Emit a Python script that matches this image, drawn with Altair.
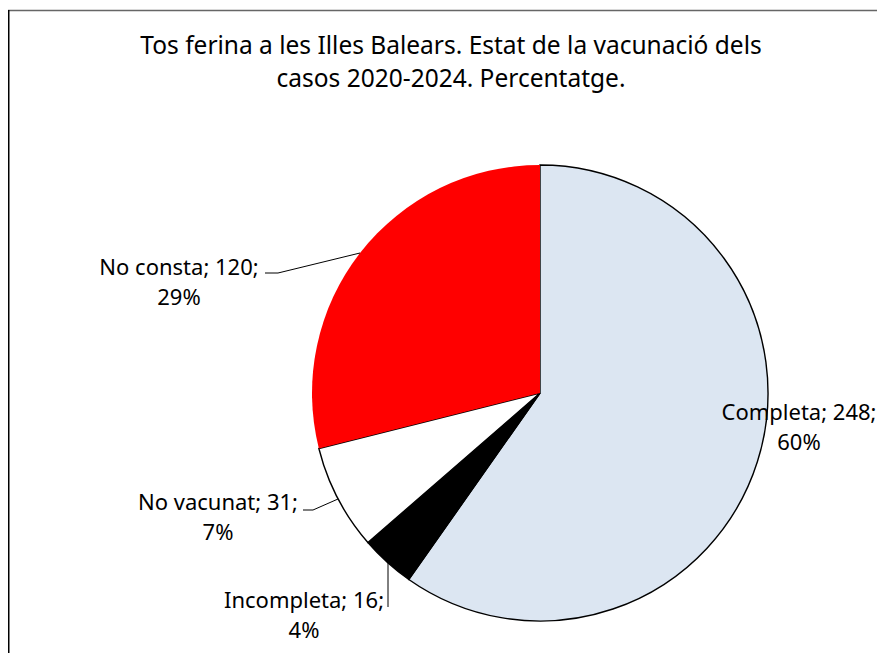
import altair as alt
import pandas as pd

# ---- data ----
categories = ["Completa", "Incompleta", "No vacunat", "No consta"]
counts = [248, 16, 31, 120]
colors = ["#DCE6F2", "#000000", "#FFFFFF", "#FF0000"]
title_lines = ["Tos ferina a les Illes Balears. Estat de la vacunació dels",
               "casos 2020-2024. Percentatge."]

# ---- layout (page pixel coordinates) ----
OFF = 8
CX, CY, R = 540 - OFF, 393 - OFF, 228
label_x = [799, 304, 218, 179]
label_y = [413, 601, 503, 268]   # centre of first text line
leader_segments = [  # x1, y1, x2, y2 (page px)
    (265, 273, 278, 273), (278, 273, 360, 253),
    (303, 510, 313, 510), (313, 510, 338, 499),
    (388, 607, 388, 563),
]
FONT = "Noto Sans"

total = sum(counts)
df = pd.DataFrame({
    "cat": categories,
    "count": counts,
    "idx": list(range(len(categories))),
})
df["label"] = [f"{c}; {n};\n{round(100 * n / total)}%" for c, n in zip(categories, counts)]
df["lx"] = [v - OFF for v in label_x]
df["ly"] = [v - OFF for v in label_y]

seg = pd.DataFrame(leader_segments, columns=["x1", "y1", "x2", "y2"]) - OFF

pie = alt.Chart(df).mark_arc(radius=R, stroke="black", strokeWidth=1.4).encode(
    theta=alt.Theta("count:Q", stack=True),
    order=alt.Order("idx:Q"),
    color=alt.Color("cat:N", scale=alt.Scale(domain=categories, range=colors), legend=None),
    strokeOpacity=alt.condition(alt.datum.cat == "No consta", alt.value(0), alt.value(1)),
    x=alt.value(CX),
    y=alt.value(CY),
)

labels = alt.Chart(df).mark_text(
    font=FONT, fontSize=22, lineBreak="\n", lineHeight=30,
    align="center", baseline="middle", color="black"
).encode(
    x=alt.X("lx:Q", scale=None, axis=None),
    y=alt.Y("ly:Q", scale=None, axis=None),
    text="label:N",
)

leaders = alt.Chart(seg).mark_rule(color="black", strokeWidth=1).encode(
    x=alt.X("x1:Q", scale=None, axis=None),
    y=alt.Y("y1:Q", scale=None, axis=None),
    x2="x2:Q",
    y2="y2:Q",
)

title_df = pd.DataFrame({"t": ["\n".join(title_lines)]})
title = alt.Chart(title_df).mark_text(
    font=FONT, fontSize=24.5, lineBreak="\n", lineHeight=33,
    align="center", baseline="middle", color="black"
).encode(
    text="t:N",
    x=alt.value(451 - OFF),
    y=alt.value(47 - OFF),
)

frame_top = alt.Chart(title_df).mark_rule(color="#666666", strokeWidth=1.5).encode(
    x=alt.value(0), x2=alt.value(900), y=alt.value(10.5 - OFF), y2=alt.value(10.5 - OFF)
)
frame_left = alt.Chart(title_df).mark_rule(color="#000000", strokeWidth=1.5).encode(
    x=alt.value(0.75), x2=alt.value(0.75), y=alt.value(10 - OFF), y2=alt.value(700)
)

chart = alt.layer(frame_top, frame_left, pie, leaders, labels, title).properties(
    width=869, height=645,
    autosize=alt.AutoSizeParams(type="none"),
    padding=0,
).configure_view(stroke=None)

chart.save("out.html", embed_options={"renderer": "svg", "actions": False})
